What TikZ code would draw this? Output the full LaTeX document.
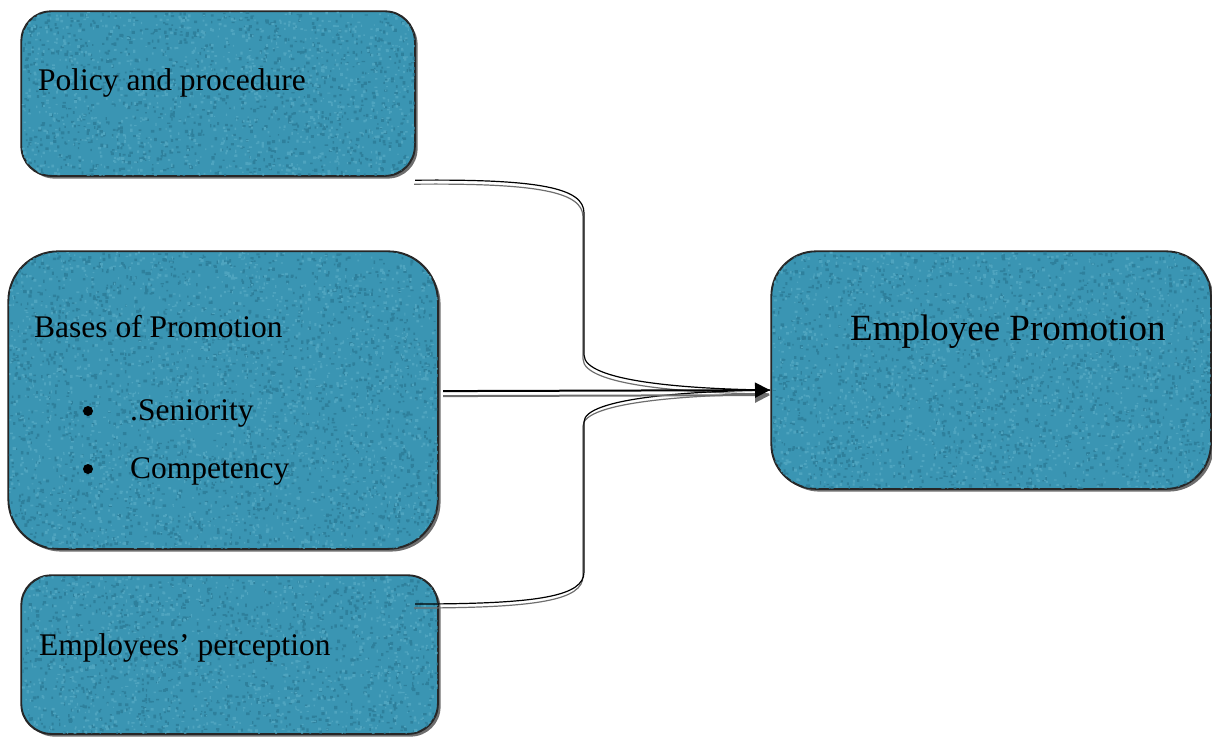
\documentclass[tikz,border=0pt]{standalone}
\usepackage{fontspec}
\setmainfont{Liberation Serif}
\usetikzlibrary{shadows,arrows.meta,calc}
\definecolor{boxteal}{RGB}{58,149,179}
\definecolor{boxdark}{RGB}{46,128,156}
\definecolor{boxlight}{RGB}{78,164,191}
\definecolor{shadowgray}{RGB}{110,110,110}
\tikzset{
  card/.style={draw=black!85, line width=1.2pt, fill=boxteal, rectangle,
    inner sep=0pt, anchor=north west,
    drop shadow={shadow xshift=3pt, shadow yshift=-3pt, fill=shadowgray, opacity=1}},
  cardrim/.style={draw=black!85, line width=1.2pt},
  label txt/.style={anchor=base west, inner sep=0pt, font=\fontsize{31.5}{38}\selectfont},
  big txt/.style={anchor=base west, inner sep=0pt, font=\fontsize{37}{44}\selectfont},
  dot/.style={circle, fill=black, inner sep=0pt, minimum size=10pt},
  link/.style={draw=black, line width=1.2pt,
    preaction={draw=shadowgray, line width=1.2pt, transform canvas={shift={(-1pt,-4pt)}}}},
  mainlink/.style={draw=black, line width=2pt,
    preaction={draw=shadowgray, line width=2pt, transform canvas={shift={(0pt,-5pt)}},
      -{Triangle[length=15pt,width=15pt]}},
    -{Triangle[length=15pt,width=15pt]}}
}
% speckled surface of a card: #1 node, #2 corner radius, #3 width, #4 height, #5 speckles per shade
\newcommand\cardspeckle[5]{%
  \begin{scope}
    \clip[rounded corners=#2] (#1.north west) rectangle (#1.south east);
    \begin{scope}[shift={(#1.center)}]
      \fill[boxdark] \foreach \i in {1,...,#5}{
        ({(rnd-0.5)*#3},{(rnd-0.5)*#4}) rectangle ++({1.2+2.4*rnd},{1.2+2.4*rnd})};
      \fill[boxlight] \foreach \i in {1,...,#5}{
        ({(rnd-0.5)*#3},{(rnd-0.5)*#4}) rectangle ++({1+2.2*rnd},{1+2.2*rnd})};
    \end{scope}
  \end{scope}
  \draw[cardrim, rounded corners=#2] (#1.north west) rectangle (#1.south east);
}
\begin{document}
\begin{tikzpicture}[x=1pt,y=-1pt]
\pgfmathsetseed{4711}
\useasboundingbox (0,0) rectangle (1212,736);

% boxes
\node[card, rounded corners=30pt, minimum width=393pt, minimum height=164pt] (policy) at (21,11) {};
\node[card, rounded corners=50pt, minimum width=429pt, minimum height=297pt] (bases) at (8,251) {};
\node[card, rounded corners=30pt, minimum width=416pt, minimum height=158pt] (percep) at (21,575) {};
\node[card, rounded corners=45pt, minimum width=439pt, minimum height=237pt] (promo) at (771,251) {};

\cardspeckle{policy}{30pt}{393}{164}{1100}
\cardspeckle{bases}{50pt}{429}{297}{2100}
\cardspeckle{percep}{30pt}{416}{158}{1100}
\cardspeckle{promo}{45pt}{439}{237}{1750}

% texts
\node[label txt] (tpolicy) at (38,90) {Policy and procedure};
\node[label txt] (tbases) at (34,337) {Bases of Promotion};
\node[dot] (b1) at (88,411) {};
\node[label txt] (tsen) at (130,420) {.Seniority};
\node[dot] (b2) at (88,469) {};
\node[label txt] (tcomp) at (130,478) {Competency};
\node[label txt] (tpercep) at (39,655) {Employees’ perception};
\node[big txt] (tpromo) at (850,340) {Employee Promotion};

% connector end points
\coordinate (tip) at ($(promo.west)+(-1,20)$);
\coordinate (s1) at ($(policy.south east)+(0,4)$);
\coordinate (s2) at ($(bases.east)+(5,-9)$);
\coordinate (s3) at ($(percep.north east)+(-23,29)$);

% connectors
\draw[link] (s1) .. controls (540,179) and (584,188) .. (584,213)
  -- (584,355) .. controls (584,382) and (690,389) .. (tip);
\draw[link] (s3) .. controls (540,604) and (584,596) .. (584,572)
  -- (584,422) .. controls (584,398) and (690,391) .. (tip);
\draw[mainlink] (s2) -- (tip);
\end{tikzpicture}
\end{document}
